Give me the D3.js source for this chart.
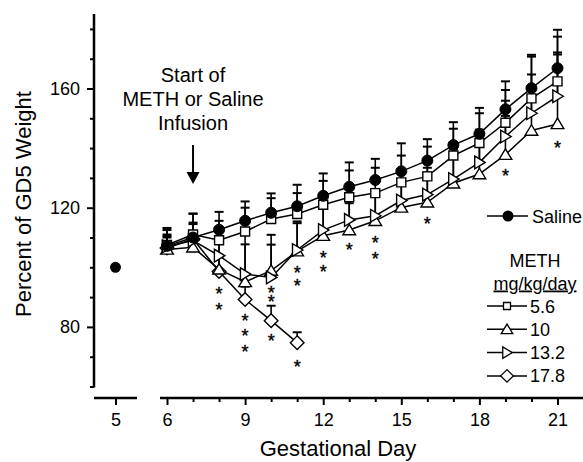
<!DOCTYPE html>
<html>
<head>
<meta charset="utf-8">
<script src="https://cdn.jsdelivr.net/npm/d3@7"></script>
<style>
  body { margin: 0; background: #fff; }
  svg { display: block; font-family: "Liberation Sans", Arial, sans-serif; }
</style>
</head>
<body>
<svg id="chart" width="583" height="462"></svg>
<script>
// gestational days and group means (% of GD5 weight)
const days = [6, 7, 8, 9, 10, 11, 12, 13, 14, 15, 16, 17, 18, 19, 20, 21]
const saline = [107.2, 110, 112.6, 115.6, 118.3, 120.5, 124, 127, 129.3, 132.2, 135.8, 141, 144.8, 153, 160.1, 166.8]
const salineErr = [6, 8, 6, 6.5, 6.5, 7.2, 7.5, 8.2, 7.1, 9.4, 7.2, 7.7, 8.7, 9.4, 11.2, 12.9]
const meth56 = [107.5, 111, 109.1, 112, 116.2, 117.9, 121, 123.5, 124.9, 128.5, 130.5, 137.5, 141.7, 148.5, 156.7, 162.4]
const meth56Err = [5, 7, 6.5, 8, 7, 7, 8, 9, 8.5, 9, 10, 9, 10, 11, 14, 15]
const meth10 = [106, 106.7, 99.3, 95.1, 98.9, 105.4, 110.6, 112.5, 115.6, 120.1, 121.8, 128.2, 131.3, 137.8, 145.9, 148.1]
const meth10Err = [4, 5, 10, 16, 12, 10, 9, 9, 9, 9, 10, 10, 11, 13, 15, 24]
const meth132 = [107, 109, 103.9, 97.7, 96.6, 105.8, 112.5, 115.9, 117.3, 122.4, 124.4, 129.6, 135.2, 143.9, 151.7, 157.4]
const meth132Err = [4, 6, 8, 10, 11, 9, 9, 9, 9, 9, 9, 10, 11, 12, 13, 14]
const days178 = [6, 7, 8, 9, 10, 11]
const meth178 = [106.5, 109.5, 98.6, 89.2, 82.1, 74.7]
const meth178Err = [4, 5, 5, 4.3, 5, 3.5]
const baselineDay = 5
const baselineVal = 100

// significance stars (day, value where each star sits)
const starDays = [8, 8, 9, 9, 9, 10, 10, 10, 11, 11, 11, 12, 12, 13, 14, 14, 16, 19, 21]
const starVals = [91.9, 86.7, 83.1, 78.1, 72.5, 92.4, 89.3, 76.2, 99.1, 94.7, 67.7, 104.1, 99.4, 106.9, 109.1, 103.9, 115.4, 131.5, 141.2]

const xTickLabels = [6, 9, 12, 15, 18, 21]
const yTickLabels = [80, 120, 160]
const legendLabels = ["5.6", "10", "13.2", "17.8"]

const svg = d3.select("#chart")
const font = "Liberation Sans, Arial, sans-serif"

const x = d3.scaleLinear().domain([6, 21]).range([167, 557.5])
const x5 = d3.scaleLinear().domain([4.2, 5.8]).range([94, 137])
const y = d3.scaleLinear().domain([60, 185]).range([386.5, 14])

// ---- y axis
const yAxis = d3.axisLeft(y)
   .tickValues(d3.range(60, 181, 10))
   .tickSizeOuter(0)
   .tickFormat(d => yTickLabels.includes(d) ? d : "")
const gy = svg.append("g").attr("transform", "translate(94,0)").call(yAxis)
gy.select(".domain").remove()
gy.append("line").attr("x1", 0).attr("x2", 0).attr("y1", y(185)).attr("y2", y(60) + 1)
   .attr("stroke", "#000").attr("stroke-width", 2.5)
gy.selectAll(".tick line").attr("stroke-width", 2)
   .attr("x2", d => yTickLabels.includes(d) ? -7 : -4)
gy.selectAll(".tick text").attr("x", -14).attr("font-size", 18).attr("font-family", font).attr("fill", "#000")

// ---- broken x axis
const axisY = 398
const xAxis = d3.axisBottom(x)
   .tickValues(d3.range(6, 22, 1))
   .tickSizeOuter(0)
   .tickFormat(d => xTickLabels.includes(d) ? d : "")
const gx = svg.append("g").attr("transform", `translate(0,${axisY})`).call(xAxis)
gx.select(".domain").remove()
gx.append("line").attr("x1", 160).attr("x2", 583).attr("y1", 0).attr("y2", 0)
   .attr("stroke", "#000").attr("stroke-width", 2.5)
gx.selectAll(".tick line").attr("stroke-width", 2)
   .attr("y2", d => xTickLabels.includes(d) ? 7 : 4)
gx.selectAll(".tick text").attr("y", 15).attr("font-size", 18).attr("font-family", font).attr("fill", "#000")

const gx5 = svg.append("g").attr("transform", `translate(0,${axisY})`)
   .call(d3.axisBottom(x5).tickValues([baselineDay]).tickFormat(d3.format("d")).tickSizeOuter(0))
gx5.select(".domain").remove()
gx5.append("line").attr("x1", 94).attr("x2", 137).attr("y1", 0).attr("y2", 0)
   .attr("stroke", "#000").attr("stroke-width", 2.5)
gx5.selectAll(".tick line").attr("stroke-width", 2).attr("y2", 7)
gx5.selectAll(".tick text").attr("y", 15).attr("font-size", 18).attr("font-family", font).attr("fill", "#000")

// ---- axis titles
svg.append("text").attr("x", 338).attr("y", 456).attr("text-anchor", "middle")
   .attr("font-size", 22).attr("font-family", font).text("Gestational Day")
svg.append("text").attr("transform", "translate(31,204) rotate(-90)").attr("text-anchor", "middle")
   .attr("font-size", 22).attr("font-family", font).text("Percent of GD5 Weight")

// ---- symbols
function shape(type, s) {
   if (type === "circle") return d3.symbol(d3.symbolCircle, s * s * 0.785)()
   if (type === "square") return d3.symbol(d3.symbolSquare, s * s)()
   const h = s / 2
   if (type === "up") return `M0,${-h * 1.05}L${h * 1.15},${h * 0.85}L${-h * 1.15},${h * 0.85}Z`
   if (type === "right") return `M${h * 1.05},0L${-h * 0.85},${-h * 1.15}L${-h * 0.85},${h * 1.15}Z`
   if (type === "diamond") return `M0,${-h * 1.05}L${h * 1.05},0L0,${h * 1.05}L${-h * 1.05},0Z`
}

const series = [
   { xs: days, vals: saline, err: salineErr, type: "circle", size: 11 },
   { xs: days, vals: meth56, err: meth56Err, type: "square", size: 9 },
   { xs: days, vals: meth132, err: meth132Err, type: "right", size: 11 },
   { xs: days, vals: meth10, err: meth10Err, type: "up", size: 11 },
   { xs: days178, vals: meth178, err: meth178Err, type: "diamond", size: 13 }
]

const plot = svg.append("g")
const line = d3.line().x(d => x(d[0])).y(d => y(d[1]))

// error bars (upward, with caps)
series.forEach(s => {
   const g = plot.append("g")
   s.xs.forEach((d, i) => {
      const top = s.vals[i] + s.err[i]
      g.append("line").attr("x1", x(d)).attr("x2", x(d)).attr("y1", y(s.vals[i])).attr("y2", y(top))
         .attr("stroke", "#000").attr("stroke-width", 1.6)
      g.append("line").attr("x1", x(d) - 4.5).attr("x2", x(d) + 4.5).attr("y1", y(top)).attr("y2", y(top))
         .attr("stroke", "#000").attr("stroke-width", 2)
   })
})

// connecting lines
series.forEach(s => {
   plot.append("path").datum(s.xs.map((d, i) => [d, s.vals[i]]))
      .attr("d", line).attr("fill", "none").attr("stroke", "#000").attr("stroke-width", 1.5)
})

// markers, drawn last so they cover the lines
series.slice().reverse().forEach(s => {
   plot.append("g").selectAll("path").data(s.xs.map((d, i) => [d, s.vals[i]])).join("path")
      .attr("transform", d => `translate(${x(d[0])},${y(d[1])})`)
      .attr("d", shape(s.type, s.size))
      .attr("fill", s.type === "circle" ? "#000" : "#fff")
      .attr("stroke", "#000").attr("stroke-width", s.type === "circle" ? 1 : 1.4)
})

// GD5 baseline point (all groups at 100)
plot.append("path").attr("transform", `translate(${x5(baselineDay)},${y(baselineVal)})`)
   .attr("d", d3.symbol(d3.symbolCircle, 70)()).attr("fill", "#000").attr("stroke", "#000").attr("stroke-width", 1.5)

// stars
plot.append("g").selectAll("text").data(starDays.map((d, i) => [d, starVals[i]])).join("text")
   .attr("x", d => x(d[0])).attr("y", d => y(d[1]) + 9)
   .attr("text-anchor", "middle").attr("font-size", 18).attr("font-family", font)
   .attr("stroke", "#000").attr("stroke-width", 0.4)
   .text("*")

// ---- annotation
const note = ["Start of", "METH or Saline", "Infusion"]
svg.append("g").selectAll("text").data(note).join("text")
   .attr("x", x(7)).attr("y", (d, i) => 82 + i * 24)
   .attr("text-anchor", "middle").attr("font-size", 20).attr("font-family", font)
   .text(d => d)
svg.append("line").attr("x1", x(7)).attr("x2", x(7)).attr("y1", 145).attr("y2", 175)
   .attr("stroke", "#000").attr("stroke-width", 2)
svg.append("path").attr("d", `M${x(7) - 6.5},172L${x(7) + 6.5},172L${x(7)},184Z`).attr("fill", "#000")

// ---- legend
const lg = svg.append("g")
lg.append("line").attr("x1", 487).attr("x2", 528).attr("y1", 216).attr("y2", 216).attr("stroke", "#000").attr("stroke-width", 1.5)
lg.append("path").attr("transform", "translate(508,216)").attr("d", shape("circle", 11)).attr("fill", "#000")
lg.append("text").attr("x", 532).attr("y", 222.5).attr("font-size", 18).attr("font-family", font).text("Saline")
lg.append("text").attr("x", 535).attr("y", 266.5).attr("text-anchor", "middle").attr("font-size", 18).attr("font-family", font).text("METH")
lg.append("text").attr("x", 535).attr("y", 289.5).attr("text-anchor", "middle").attr("font-size", 18).attr("font-family", font)
   .attr("text-decoration", "underline").text("mg/kg/day")

const legendShapes = [["square", 7], ["up", 10], ["right", 10], ["diamond", 12]]
legendLabels.forEach((lab, i) => {
   const ly = 306 + i * 23.3
   lg.append("line").attr("x1", 487).attr("x2", 527).attr("y1", ly).attr("y2", ly).attr("stroke", "#000").attr("stroke-width", 1.5)
   lg.append("path").attr("transform", `translate(507,${ly})`).attr("d", shape(legendShapes[i][0], legendShapes[i][1]))
      .attr("fill", "#fff").attr("stroke", "#000").attr("stroke-width", 1.3)
   lg.append("text").attr("x", 530).attr("y", ly + 6.5).attr("font-size", 18).attr("font-family", font).text(lab)
})
</script>
</body>
</html>
